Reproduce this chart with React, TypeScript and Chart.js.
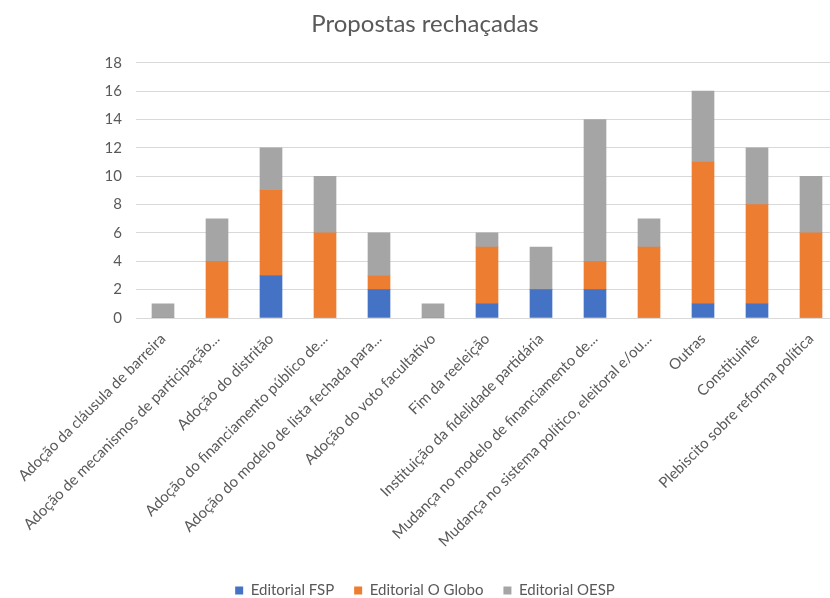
import React, { useEffect, useRef } from "react";
import { Chart, registerables } from "chart.js";

Chart.register(...registerables);

const categories = [
  "Adoção da cláusula de barreira",
  "Adoção de mecanismos de participação...",
  "Adoção do distritão",
  "Adoção do financiamento público de...",
  "Adoção do modelo de lista fechada para...",
  "Adoção do voto facultativo",
  "Fim da reeleição",
  "Instituição da fidelidade partidária",
  "Mudança no modelo de financiamento de...",
  "Mudança no sistema político, eleitoral e/ou...",
  "Outras",
  "Constituinte",
  "Plebiscito sobre reforma política",
];

const fsp = [0, 0, 3, 0, 2, 0, 1, 2, 2, 0, 1, 1, 0];
const oGlobo = [0, 4, 6, 6, 1, 0, 4, 0, 2, 5, 10, 7, 6];
const oesp = [1, 3, 3, 4, 3, 1, 1, 3, 10, 2, 5, 4, 4];

const seriesNames = ["Editorial FSP", "Editorial O Globo", "Editorial OESP"];
const yTicks = [0, 2, 4, 6, 8, 10, 12, 14, 16, 18];

export default function App() {
  const ref = useRef<HTMLCanvasElement | null>(null);

  useEffect(() => {
    document.body.style.margin = "0";
    const ctx = ref.current!;
    const font = "Lato, 'Open Sans', sans-serif";
    const grey = "#595959";
    const chart = new Chart(ctx, {
      type: "bar",
      data: {
        labels: categories,
        datasets: [
          { label: seriesNames[0], data: fsp, backgroundColor: "#4472C4" },
          { label: seriesNames[1], data: oGlobo, backgroundColor: "#ED7D31" },
          { label: seriesNames[2], data: oesp, backgroundColor: "#A5A5A5" },
        ],
      },
      options: {
        animation: false,
        responsive: false,
        maintainAspectRatio: false,
        layout: { padding: { left: 12, right: 0, top: 0, bottom: 0 } },
        datasets: { bar: { barThickness: 22 } },
        plugins: {
          title: {
            display: true,
            text: "Propostas rechaçadas",
            color: grey,
            font: { family: font, size: 24, weight: "normal" },
            padding: { top: 10, bottom: 24 },
          },
          legend: {
            position: "bottom",
            labels: {
              color: grey,
              font: { family: font, size: 15 },
              boxWidth: 8,
              boxHeight: 8,
              padding: 20,
            },
          },
          tooltip: { enabled: false },
        },
        scales: {
          x: {
            stacked: true,
            grid: { display: false, drawTicks: false },
            border: { display: false },
            ticks: {
              color: grey,
              font: { family: font, size: 15 },
              minRotation: 45,
              maxRotation: 45,
              autoSkip: false,
              padding: 12,
            },
            afterFit: (axis: any) => {
              axis.height = 245;
            },
          },
          y: {
            stacked: true,
            min: 0,
            max: 18,
            afterBuildTicks: (axis: any) => {
              axis.ticks = yTicks.map((v) => ({ value: v }));
            },
            afterFit: (axis: any) => {
              axis.width = 124;
            },
            grid: { color: "#D9D9D9", lineWidth: 1, drawTicks: false },
            border: { display: false },
            ticks: {
              color: grey,
              font: { family: font, size: 15 },
              padding: 14,
            },
          },
        },
      },
    });
    return () => chart.destroy();
  }, []);

  return (
    <div style={{ width: 830, height: 598, overflow: "hidden", background: "#fff" }}>
      <canvas ref={ref} width={838} height={608} style={{ display: "block" }} />
    </div>
  );
}
